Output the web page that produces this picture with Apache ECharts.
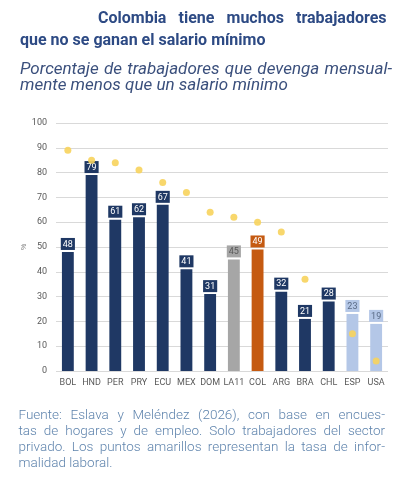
<!DOCTYPE html>
<html><head><meta charset="utf-8">
<script src="https://cdn.jsdelivr.net/npm/echarts@6/dist/echarts.min.js"></script>
<style>html,body{margin:0;padding:0;background:#fff}#c{width:408px;height:480px}</style>
</head><body><div id="c"></div>
<script>
const categories = ['BOL','HND','PER','PRY','ECU','MEX','DOM','LA11','COL','ARG','BRA','CHL','ESP','USA'];
const belowMinWage = [48,79,61,62,67,41,31,45,49,32,21,28,23,19];
const informality = [89,85,84,81,76,72,64,62,60,56,37,null,15,4];
const yTicks = {min:0, max:100, interval:10};
const titleLines = ['Colombia tiene muchos trabajadores','que no se ganan el salario mínimo'];
const subtitleLines = ['Porcentaje de trabajadores que devenga mensual-','mente menos que un salario mínimo'];
const footerLines = ['Fuente: Eslava y Meléndez (2026), con base en encues-','tas de hogares y de empleo. Solo trabajadores del sector','privado. Los puntos amarillos representan la tasa de infor-','malidad laboral.'];

const NAVY='#1f3864', GRAY='#a6a6a6', ORANGE='#c55a11', LIGHT='#b4c7e7';
function barColor(c){ if(c==='LA11') return GRAY; if(c==='COL') return ORANGE; if(c==='ESP'||c==='USA') return LIGHT; return NAVY; }
function labelColor(c){ if(c==='LA11') return '#595959'; if(c==='ESP'||c==='USA') return '#5a6b86'; return '#ffffff'; }

const barData = belowMinWage.map((v,i)=>{
  const c = categories[i];
  return {value:v, itemStyle:{color:barColor(c)},
    label:{backgroundColor:barColor(c), color:labelColor(c)}};
});

const mctx = document.createElement('canvas').getContext('2d');
function textLine(out, text, x0, x1, y, font, fill, justify){
  if(!justify){
    out.push({type:'text', x:x0, y:y, style:{text:text, fill:fill, font:font, textAlign:'left', textVerticalAlign:'top'}});
    return;
  }
  mctx.font = font;
  const words = text.split(' ');
  const widths = words.map(w=>mctx.measureText(w).width);
  const total = widths.reduce((a,b)=>a+b,0);
  const gap = (x1-x0-total)/(words.length-1);
  let x = x0;
  words.forEach((w,i)=>{
    out.push({type:'text', x:x, y:y, style:{text:w, fill:fill, font:font, textAlign:'left', textVerticalAlign:'top'}});
    x += widths[i]+gap;
  });
}

const chart = echarts.init(document.getElementById('c'), null, {renderer:'canvas'});
const graphics = [];
const TF = 'bold 16px Roboto';
textLine(graphics, titleLines[0], 98, 386.5, 11, TF, '#2d4a84', true);
textLine(graphics, titleLines[1], 20, 0, 33, TF, '#2d4a84', false);
const SF = 'italic 17px Roboto';
textLine(graphics, subtitleLines[0], 20, 392, 61, SF, '#3a4f7c', true);
textLine(graphics, subtitleLines[1], 20, 0, 77, SF, '#3a4f7c', false);
const FF = '300 13.5px Roboto';
footerLines.forEach((t,i)=>textLine(graphics, t, 18.5, 385, 409+i*16, FF, '#5f84ad', i<3));

chart.setOption({
  animation:false,
  grid:{left:56, right:20, top:123, bottom:109, containLabel:false},
  xAxis:{type:'category', data:categories,
    axisLine:{show:false}, axisTick:{show:false},
    axisLabel:{color:'#595959', fontSize:9, fontFamily:'Roboto', margin:7, interval:0}},
  yAxis:{type:'value', min:yTicks.min, max:yTicks.max, interval:yTicks.interval,
    name:'%', nameLocation:'middle', nameGap:28, nameRotate:90, nameMoveOverlap:false,
    nameTextStyle:{color:'#808080', fontSize:7, padding:[0,0,0,0]},
    axisLine:{show:false}, axisTick:{show:false},
    axisLabel:{color:'#595959', fontSize:9, fontFamily:'Roboto', margin:9},
    splitLine:{lineStyle:{color:'#d9d9d9', width:1}}},
  series:[
    {type:'bar', data:barData, barWidth:'50%',
      label:{show:true, position:'top', distance:2, fontSize:9, fontFamily:'Roboto', padding:[2,2,1,2]}},
    {type:'scatter', data:informality, symbolSize:7, z:3,
      itemStyle:{color:'#f7d35c', opacity:0.9}}
  ],
  graphic:graphics
});
</script></body></html>
